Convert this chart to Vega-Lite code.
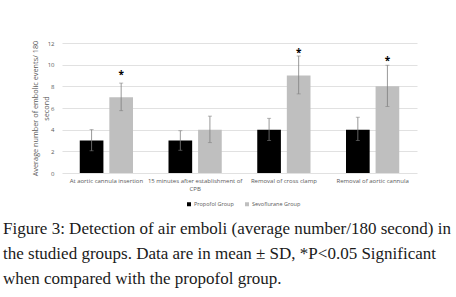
{
  "$schema": "https://vega.github.io/schema/vega-lite/v6.json",
  "autosize": {"type": "none"},
  "width": 355,
  "height": 130,
  "padding": {"left": 62, "top": 43, "right": 39, "bottom": 124},
  "background": "white",
  "config": {
    "view": {"stroke": null},
    "font": "Open Sans",
    "axis": {"labelFont": "Open Sans", "titleFont": "Open Sans"}
  },
  "title": {
    "text": ["Figure 3: Detection of air emboli (average number/180 second) in", "the studied groups. Data are in mean ± SD, *P<0.05 Significant", "when compared with the propofol group."],
    "orient": "bottom",
    "anchor": "start",
    "frame": "group",
    "font": "Liberation Serif",
    "fontSize": 17,
    "fontWeight": "normal",
    "color": "#1a1a1a",
    "lineHeight": 25,
    "dx": -59,
    "offset": 13
  },
  "data": {
    "values": [
      {"time": "At aortic cannula insertion", "group": "Propofol  Group", "mean": 3, "lo": 2.05, "hi": 4.0, "star": null},
      {"time": "At aortic cannula insertion", "group": "Sevoflurane Group", "mean": 7, "lo": 5.75, "hi": 8.3, "star": 9.2},
      {"time": "15 minutes after establishment of CPB", "group": "Propofol  Group", "mean": 3, "lo": 2.1, "hi": 3.9, "star": null},
      {"time": "15 minutes after establishment of CPB", "group": "Sevoflurane Group", "mean": 4, "lo": 2.8, "hi": 5.25, "star": null},
      {"time": "Removal of cross clamp", "group": "Propofol  Group", "mean": 4, "lo": 3.0, "hi": 5.05, "star": null},
      {"time": "Removal of cross clamp", "group": "Sevoflurane Group", "mean": 9, "lo": 7.3, "hi": 10.8, "star": 11.3},
      {"time": "Removal of aortic cannula", "group": "Propofol  Group", "mean": 4, "lo": 3.0, "hi": 5.15, "star": null},
      {"time": "Removal of aortic cannula", "group": "Sevoflurane Group", "mean": 8, "lo": 6.15, "hi": 9.95, "star": 10.5}
    ]
  },
  "encoding": {
    "x": {
      "field": "time", "type": "nominal", "sort": null,
      "scale": {"paddingInner": 0, "paddingOuter": 0},
      "axis": {
        "title": null, "labelAngle": 0, "domain": false, "ticks": false,
        "labelFontSize": 6, "labelColor": "#595959", "labelPadding": 4, "labelLineHeight": 8,
        "labelExpr": "datum.label == '15 minutes after establishment of CPB' ? ['15 minutes after establishment of', 'CPB'] : datum.label"
      }
    },
    "xOffset": {
      "field": "group", "type": "nominal", "sort": null,
      "scale": {"paddingInner": 0.2, "paddingOuter": 0.6}
    }
  },
  "layer": [
    {
      "mark": {"type": "bar"},
      "encoding": {
        "y": {
          "field": "mean", "type": "quantitative",
          "scale": {"domain": [0, 12]},
          "axis": {
            "values": [0, 2, 4, 6, 8, 10, 12], "labelOverlap": false, "tickCount": 7,
            "title": ["Average number of embolic events/ 180", "second"],
            "titleFontSize": 7.3, "titleColor": "#595959", "titleFontWeight": "normal",
            "titlePadding": -3, "titleLineHeight": 11,
            "domain": false, "ticks": false,
            "labelFontSize": 6, "labelColor": "#595959", "labelPadding": 8,
            "gridColor": "#d9d9d9", "gridWidth": 0.8
          }
        },
        "color": {
          "field": "group", "type": "nominal", "sort": null,
          "scale": {"range": ["#000000", "#bfbfbf"]},
          "legend": {
            "title": null, "orient": "none", "legendX": 124, "legendY": 158, "direction": "horizontal",
            "symbolType": "square", "symbolSize": 16, "labelFontSize": 5.5,
            "labelColor": "#595959", "columnPadding": 8, "labelOffset": 2
          }
        }
      }
    },
    {
      "mark": {"type": "rule", "color": "#7f7f7f", "strokeWidth": 0.8},
      "encoding": {
        "y": {"field": "lo", "type": "quantitative", "axis": {"values": [0, 2, 4, 6, 8, 10, 12], "labelOverlap": false, "tickCount": 7}},
        "y2": {"field": "hi"}
      }
    },
    {
      "mark": {"type": "tick", "color": "#7f7f7f", "size": 4, "thickness": 0.8},
      "encoding": {"y": {"field": "lo", "type": "quantitative", "axis": {"values": [0, 2, 4, 6, 8, 10, 12], "labelOverlap": false, "tickCount": 7}}}
    },
    {
      "mark": {"type": "tick", "color": "#7f7f7f", "size": 4, "thickness": 0.8},
      "encoding": {"y": {"field": "hi", "type": "quantitative", "axis": {"values": [0, 2, 4, 6, 8, 10, 12], "labelOverlap": false, "tickCount": 7}}}
    },
    {
      "transform": [{"filter": "datum.star != null"}],
      "mark": {"type": "text", "text": "*", "fontSize": 10, "fontWeight": "bold", "baseline": "middle", "dy": 2, "color": "#000000"},
      "encoding": {"y": {"field": "star", "type": "quantitative", "axis": {"values": [0, 2, 4, 6, 8, 10, 12], "labelOverlap": false, "tickCount": 7}}}
    }
  ]
}
